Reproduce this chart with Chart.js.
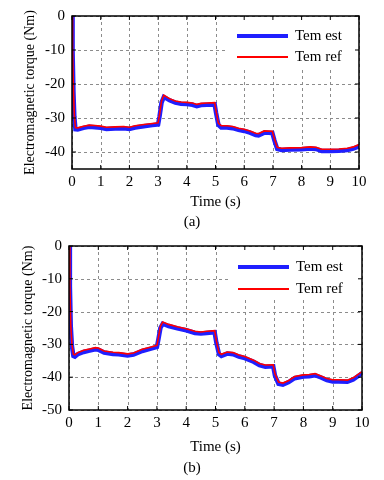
<!DOCTYPE html>
<html>
<head>
<meta charset="utf-8">
<script src="https://cdn.jsdelivr.net/npm/chart.js@4"></script>
<style>
  body { margin: 0; background: #fff; width: 384px; height: 480px; position: relative; overflow: hidden; }
  .box { position: absolute; left: 0; width: 384px; }
  .cap { position: absolute; left: 0; width: 384px; text-align: center; font: 15px "Liberation Serif", "Times New Roman", serif; color: #000; }
</style>
</head>
<body>
<div class="box" style="top:0;height:215px"><canvas id="chartA"></canvas></div>
<div class="cap" style="top:213px">(a)</div>
<div class="box" style="top:230px;height:230px"><canvas id="chartB"></canvas></div>
<div class="cap" style="top:459px">(b)</div>
<script>
// (a) torque estimate vs reference
const timeA = [0, 0.02, 0.05, 0.08, 0.12, 0.2, 0.4, 0.6, 0.8, 1.0, 1.2, 1.5, 1.8, 2.0, 2.2, 2.5, 2.8, 3.0, 3.05, 3.12,
  3.2, 3.4, 3.6, 3.8, 4.0, 4.2, 4.35, 4.5, 4.7, 4.97, 5.02, 5.1, 5.2, 5.4, 5.6, 5.8, 6.0, 6.2, 6.4, 6.5,
  6.7, 6.98, 7.05, 7.15, 7.3, 7.6, 8.0, 8.3, 8.5, 8.7, 9.0, 9.3, 9.6, 9.8, 10];
const refA = [0, -10, -22, -29, -32.8, -32.9, -32.4, -32.1, -32.2, -32.4, -32.7, -32.6, -32.5, -32.7, -32.3, -31.9, -31.6, -31.4, -29, -25,
  -23.3, -24.3, -25, -25.3, -25.4, -25.6, -26, -25.7, -25.6, -25.5, -28, -31.5, -32.3, -32.3, -32.5, -33, -33.3, -33.8, -34.5, -34.6,
  -33.8, -33.9, -36, -38.6, -38.9, -38.8, -38.7, -38.5, -38.6, -39.2, -39.2, -39.1, -38.9, -38.5, -37.8];
const estA = [0, -10.3, -22.4, -29.5, -33.3, -33.4, -32.9, -32.6, -32.7, -32.9, -33.2, -33.1, -33, -33.2, -32.8, -32.4, -32.1, -31.9, -29.5, -25.5,
  -23.8, -24.8, -25.5, -25.8, -25.9, -26.1, -26.5, -26.2, -26.1, -26, -28.5, -32, -32.8, -32.8, -33, -33.5, -33.8, -34.3, -35, -35.1,
  -34.3, -34.4, -36.5, -39.1, -39.4, -39.3, -39.2, -39, -39.1, -39.7, -39.7, -39.6, -39.4, -39, -38.3];

// (b)
const timeB = [0, 0.03, 0.06, 0.1, 0.15, 0.2, 0.3, 0.5, 0.7, 0.9, 1.0, 1.2, 1.5, 1.7, 2.0, 2.2, 2.5, 2.8, 3.0, 3.05,
  3.12, 3.2, 3.4, 3.7, 4.0, 4.3, 4.5, 4.7, 4.97, 5.03, 5.12, 5.2, 5.4, 5.6, 5.8, 6.0, 6.3, 6.5, 6.7, 6.97,
  7.03, 7.15, 7.3, 7.5, 7.7, 8.0, 8.2, 8.4, 8.6, 8.8, 9.0, 9.2, 9.5, 9.7, 10];
const refB = [0, -12, -24, -30, -33, -33.2, -32.5, -31.8, -31.4, -31, -31.1, -32, -32.4, -32.5, -32.9, -32.6, -31.5, -30.8, -30.3, -28,
  -24.5, -23.2, -23.9, -24.6, -25.2, -26, -26.2, -26, -25.8, -29, -32.5, -33, -32.3, -32.5, -33.2, -33.7, -34.8, -35.8, -36.3, -36.2,
  -39, -41.5, -41.8, -41, -39.8, -39.3, -39.2, -38.9, -39.6, -40.4, -40.8, -40.8, -40.9, -40.2, -38.3];
const estB = [0, -12.3, -24.4, -30.5, -33.5, -33.7, -33, -32.3, -31.9, -31.5, -31.6, -32.5, -32.9, -33, -33.4, -33.1, -32, -31.3, -30.8, -28.5,
  -25, -23.7, -24.4, -25.1, -25.7, -26.5, -26.7, -26.5, -26.3, -29.5, -33, -33.5, -32.8, -33, -33.7, -34.2, -35.3, -36.3, -36.8, -36.7,
  -39.5, -42, -42.3, -41.5, -40.3, -39.8, -39.7, -39.4, -40.1, -40.9, -41.3, -41.3, -41.4, -40.7, -38.8];

const xTicks = [0, 1, 2, 3, 4, 5, 6, 7, 8, 9, 10];
const yTicksA = [-40, -30, -20, -10, 0];
const yTicksB = [-50, -40, -30, -20, -10, 0];
const seriesLabels = ['Tem est', 'Tem ref'];

const FONT = '"Liberation Serif", "Times New Roman", Times, serif';

function pts(t, v) {
    return t.map((x, i) => ({ x: x, y: v[i] }));
}

// dashed grid under the lines
const gridPlugin = {
    id: 'dashgrid',
    beforeDatasetsDraw(chart) {
        const ctx = chart.ctx, a = chart.chartArea;
        const xs = chart.scales.x, ys = chart.scales.y;
        ctx.save();
        ctx.strokeStyle = '#8c8c8c';
        ctx.lineWidth = 1;
        ctx.setLineDash([3, 3]);
        ctx.beginPath();
        xs.ticks.forEach(t => {
            const px = Math.round(xs.getPixelForValue(t.value)) + 0.5;
            ctx.moveTo(px, a.top); ctx.lineTo(px, a.bottom);
        });
        ys.ticks.forEach(t => {
            const py = Math.round(ys.getPixelForValue(t.value)) + 0.5;
            ctx.moveTo(a.left, py); ctx.lineTo(a.right, py);
        });
        ctx.stroke();
        ctx.restore();
    }
};

// box, inner ticks and the legend in the top right corner
function framePlugin(lg) {
    return {
        id: 'frame',
        afterDatasetsDraw(chart) {
            const ctx = chart.ctx, a = chart.chartArea;
            const xs = chart.scales.x, ys = chart.scales.y;
            ctx.save();
            ctx.fillStyle = '#fff';
            ctx.fillRect(a.left + lg.lx - 10, a.top + 1, a.right - a.left - lg.lx + 8, lg.lh);
            ctx.strokeStyle = '#000';
            ctx.lineWidth = 1.5;
            ctx.strokeRect(a.left, a.top, a.right - a.left, a.bottom - a.top);
            ctx.lineWidth = 1;
            ctx.beginPath();
            xs.ticks.forEach(t => {
                const px = xs.getPixelForValue(t.value);
                ctx.moveTo(px, a.bottom); ctx.lineTo(px, a.bottom - 4);
                ctx.moveTo(px, a.top); ctx.lineTo(px, a.top + 4);
            });
            ys.ticks.forEach(t => {
                const py = ys.getPixelForValue(t.value);
                ctx.moveTo(a.left, py); ctx.lineTo(a.left + 4, py);
                ctx.moveTo(a.right, py); ctx.lineTo(a.right - 4, py);
            });
            ctx.stroke();
            const sets = chart.data.datasets;
            for (let i = 0; i < sets.length; i++) {
                const y = a.top + lg.ly + i * lg.gap;
                ctx.strokeStyle = sets[i].borderColor;
                ctx.lineWidth = i === 0 ? 4 : 2;
                ctx.beginPath();
                ctx.moveTo(a.left + lg.lx, y);
                ctx.lineTo(a.left + lg.lx + 51, y);
                ctx.stroke();
                ctx.fillStyle = '#000';
                ctx.font = '15px ' + FONT;
                ctx.textBaseline = 'middle';
                ctx.textAlign = 'left';
                ctx.fillText(sets[i].label, a.left + lg.lx + 58, y);
            }
            ctx.restore();
        }
    };
}

function makeChart(id, t, est, ref, yMin, yTicks, lay, lg) {
    return new Chart(document.getElementById(id), {
        type: 'line',
        data: {
            datasets: [
                { label: seriesLabels[0], data: pts(t, est), borderColor: '#1f1fff', borderWidth: 4.5, order: 1 },
                { label: seriesLabels[1], data: pts(t, ref), borderColor: '#ff0000', borderWidth: 1.6, order: 0 }
            ]
        },
        options: {
            responsive: true,
            maintainAspectRatio: false,
            animation: false,
            events: [],
            elements: { point: { radius: 0 }, line: { tension: 0 } },
            layout: { padding: { left: 0, top: lay.top, right: lay.right, bottom: 0 } },
            plugins: { legend: { display: false }, tooltip: { enabled: false } },
            scales: {
                x: {
                    type: 'linear', min: 0, max: 10,
                    afterBuildTicks: s => { s.ticks = xTicks.map(v => ({ value: v })); },
                    afterFit: s => { s.height = lay.xh; },
                    grid: { display: false, drawTicks: false },
                    border: { display: false },
                    ticks: { color: '#000', padding: 4, font: { family: FONT, size: 15 } },
                    title: { display: true, text: 'Time (s)', color: '#000', padding: { top: 2 }, font: { family: FONT, size: 15 } }
                },
                y: {
                    min: yMin, max: 0,
                    afterBuildTicks: s => { s.ticks = yTicks.map(v => ({ value: v })); },
                    afterFit: s => { s.width = lay.yw; },
                    grid: { display: false, drawTicks: false },
                    border: { display: false },
                    ticks: { color: '#000', padding: 7, font: { family: FONT, size: 15 } },
                    title: { display: true, text: 'Electromagnetic torque (Nm)', color: '#000', padding: { top: lay.tp, bottom: 0 }, font: { family: FONT, size: 14 } }
                }
            }
        },
        plugins: [gridPlugin, framePlugin(lg)]
    });
}

makeChart('chartA', timeA, estA, refA, -45, yTicksA,
    { top: 9, right: 25, xh: 46, yw: 72, tp: 22 },
    { lx: 165, ly: 20, gap: 21, lh: 51 });
makeChart('chartB', timeB, estB, refB, -50, yTicksB,
    { top: 7, right: 22, xh: 50, yw: 69, tp: 20 },
    { lx: 169, ly: 21, gap: 22, lh: 50 });
</script>
</body>
</html>
